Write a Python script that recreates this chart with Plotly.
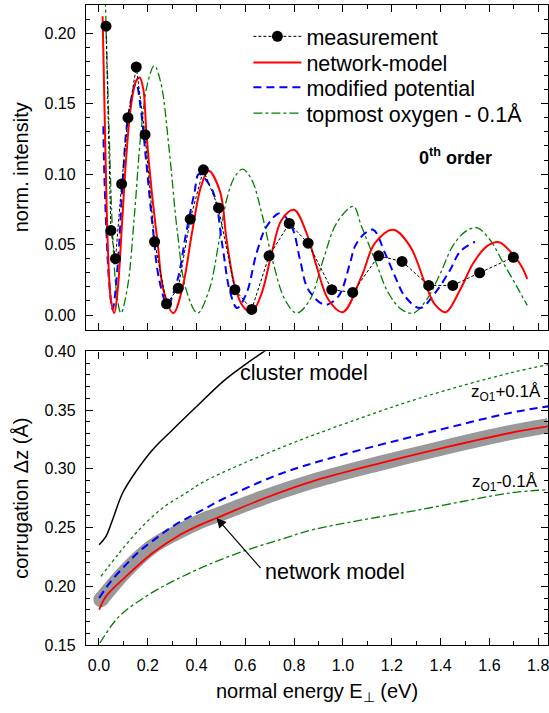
import plotly.graph_objects as go

# ---------------- top panel data (0th order intensity) ----------------
meas_E = [0.029, 0.049, 0.068, 0.093, 0.119, 0.153, 0.189, 0.228, 0.277, 0.325, 0.374, 0.428, 0.490,
          0.557, 0.626, 0.697, 0.780, 0.857, 0.954, 1.040, 1.146, 1.242, 1.351, 1.450, 1.560, 1.698]
meas_I = [0.205, 0.060, 0.040, 0.093, 0.140, 0.176, 0.128, 0.052, 0.008, 0.019, 0.068, 0.103, 0.076,
          0.018, 0.004, 0.042, 0.065, 0.051, 0.018, 0.016, 0.042, 0.038, 0.021, 0.021, 0.030, 0.041]

net_E = [0.015, 0.025, 0.037, 0.049, 0.063, 0.077, 0.094, 0.111, 0.131, 0.152, 0.167, 0.182, 0.195,
         0.217, 0.240, 0.264, 0.305, 0.343, 0.381, 0.418, 0.449, 0.496, 0.523, 0.557, 0.591, 0.626,
         0.667, 0.708, 0.749, 0.799, 0.851, 0.892, 0.940, 0.999, 1.076, 1.131, 1.206, 1.275, 1.336,
         1.377, 1.421, 1.480, 1.534, 1.589, 1.639, 1.691, 1.732, 1.755]
net_I = [0.212, 0.129, 0.046, 0.011, 0.0014, 0.018, 0.063, 0.110, 0.148, 0.166, 0.1685, 0.160, 0.128,
         0.0865, 0.052, 0.018, 0.0014, 0.020, 0.058, 0.091, 0.1023, 0.0877, 0.0534, 0.0203, 0.006, 0.002,
         0.0156, 0.044, 0.0676, 0.0747, 0.058, 0.0345, 0.011, 0.002, 0.0274, 0.051, 0.0605, 0.0487, 0.0227,
         0.0073, 0.002, 0.018, 0.0369, 0.0487, 0.0517, 0.044, 0.0345, 0.0257]

mod_E = [0.018, 0.022, 0.031, 0.042, 0.056, 0.0765, 0.097, 0.1175, 0.152, 0.172, 0.193, 0.220, 0.247,
         0.281, 0.322, 0.357, 0.391, 0.410, 0.466, 0.507, 0.535, 0.566, 0.605, 0.646, 0.687, 0.742,
         0.790, 0.824, 0.858, 0.926, 0.981, 1.029, 1.049, 1.090, 1.124, 1.172, 1.213, 1.254, 1.316,
         1.377, 1.439, 1.480, 1.541]
mod_I = [0.134, 0.101, 0.058, 0.023, 0.004, 0.0345, 0.0936, 0.1385, 0.1645, 0.1456, 0.110, 0.0628, 0.025,
         0.0073, 0.025, 0.058, 0.0865, 0.100, 0.088, 0.048, 0.018, 0.005, 0.0156, 0.044, 0.0628, 0.0723,
         0.0628, 0.0392, 0.018, 0.0073, 0.0132, 0.0369, 0.0487, 0.058, 0.0605, 0.044, 0.0274, 0.0132, 0.005,
         0.0156, 0.032, 0.045, 0.052]

top_E = [0.024, 0.042, 0.056, 0.0725, 0.090, 0.1175, 0.145, 0.172, 0.1995, 0.227, 0.254, 0.288, 0.322,
         0.357, 0.404, 0.452, 0.493, 0.523, 0.557, 0.589, 0.626, 0.667, 0.714, 0.762, 0.810, 0.865,
         0.919, 0.974, 1.042, 1.076, 1.131, 1.186, 1.241, 1.288, 1.343, 1.400, 1.450, 1.500, 1.548,
         1.602, 1.657, 1.712, 1.755]
top_I = [0.238, 0.129, 0.058, 0.0156, 0.0014, 0.0203, 0.070, 0.129, 0.1645, 0.177, 0.1645, 0.117, 0.058,
         0.018, 0.0014, 0.018, 0.0534, 0.0818, 0.0983, 0.1035, 0.096, 0.0723, 0.0369, 0.011, 0.0014, 0.011,
         0.0392, 0.0652, 0.077, 0.0628, 0.0392, 0.0156, 0.0038, 0.0014, 0.011, 0.030, 0.049, 0.059, 0.062,
         0.0534, 0.0369, 0.0203, 0.0068]

# ---------------- bottom panel data (corrugation) ----------------
clu_E = [0.001, 0.029, 0.056, 0.097, 0.152, 0.220, 0.302, 0.400, 0.509, 0.589, 0.677, 0.700]
clu_V = [0.2354, 0.2425, 0.2567, 0.2794, 0.2978, 0.3163, 0.3333, 0.3530, 0.3745, 0.3872, 0.400, 0.403]

plus_E = [0.008, 0.083, 0.165, 0.261, 0.357, 0.432, 0.742, 1.015, 1.316, 1.684, 1.841]
plus_V = [0.2084, 0.2283, 0.2482, 0.2667, 0.2794, 0.2893, 0.3177, 0.3390, 0.3603, 0.3816, 0.3887]

minus_E = [0.004, 0.083, 0.193, 0.302, 0.432, 0.580, 0.742, 0.878, 1.316, 1.684, 1.841]
minus_V = [0.1517, 0.1744, 0.1914, 0.2042, 0.2169, 0.2290, 0.2397, 0.2482, 0.2652, 0.2794, 0.2822]

modc_E = [0.001, 0.049, 0.111, 0.165, 0.227, 0.302, 0.432, 0.510, 0.742, 0.974, 1.288, 1.411, 1.684, 1.841]
modc_V = [0.190, 0.2042, 0.2184, 0.2297, 0.2397, 0.2510, 0.2658, 0.2745, 0.2956, 0.3106, 0.3276, 0.3340, 0.3476, 0.3532]

netc_E = [0.001, 0.029, 0.111, 0.220, 0.329, 0.432, 0.482, 0.673, 0.878, 1.138, 1.411, 1.684, 1.841]
netc_V = [0.180, 0.1914, 0.2084, 0.2283, 0.2435, 0.2539, 0.2581, 0.2745, 0.2895, 0.3040, 0.3178, 0.3305, 0.3361]

band_E = [0.008, 0.111, 0.220, 0.329, 0.432, 0.482, 0.673, 0.878, 1.138, 1.411, 1.684, 1.841]
band_V = [0.1886, 0.2135, 0.2340, 0.2467, 0.2567, 0.2604, 0.2755, 0.2895, 0.3040, 0.3180, 0.3308, 0.3368]

RED = "rgb(255,0,0)"
BLUE = "rgb(0,0,255)"
GREEN = "rgb(0,128,0)"
GRAY = "rgb(153,153,153)"
FONT = "Liberation Sans, Arial, sans-serif"

fig = go.Figure()

# top panel
fig.add_trace(go.Scatter(x=top_E, y=top_I, mode="lines", name="topmost oxygen - 0.1Å", legend="legend4",
                         line=dict(color=GREEN, width=1.3, dash="dashdot", shape="spline"),
                         xaxis="x", yaxis="y"))
fig.add_trace(go.Scatter(x=mod_E, y=mod_I, mode="lines", name="modified potential", legend="legend3",
                         line=dict(color=BLUE, width=2, dash="8px,5px", shape="spline"),
                         xaxis="x", yaxis="y"))
fig.add_trace(go.Scatter(x=net_E, y=net_I, mode="lines", name="network-model", legend="legend2",
                         line=dict(color=RED, width=2, shape="spline"),
                         xaxis="x", yaxis="y"))
fig.add_trace(go.Scatter(x=meas_E, y=meas_I, mode="lines+markers", name="measurement", legend="legend",
                         line=dict(color="black", width=1, dash="3px,2px"),
                         marker=dict(color="black", size=11),
                         xaxis="x", yaxis="y"))

# bottom panel
fig.add_trace(go.Scatter(x=band_E, y=band_V, mode="lines", showlegend=False,
                         line=dict(color=GRAY, width=15, shape="spline"), xaxis="x2", yaxis="y2"))
fig.add_trace(go.Scatter(x=band_E[:1], y=band_V[:1], mode="markers", showlegend=False,
                         marker=dict(color=GRAY, size=15), xaxis="x2", yaxis="y2"))
fig.add_trace(go.Scatter(x=clu_E, y=clu_V, mode="lines", showlegend=False,
                         line=dict(color="black", width=1.5, shape="spline"), xaxis="x2", yaxis="y2"))
fig.add_trace(go.Scatter(x=plus_E, y=plus_V, mode="lines", showlegend=False,
                         line=dict(color=GREEN, width=1.3, dash="dot", shape="spline"), xaxis="x2", yaxis="y2"))
fig.add_trace(go.Scatter(x=minus_E, y=minus_V, mode="lines", showlegend=False,
                         line=dict(color=GREEN, width=1.3, dash="dashdot", shape="spline"), xaxis="x2", yaxis="y2"))
fig.add_trace(go.Scatter(x=modc_E, y=modc_V, mode="lines", showlegend=False,
                         line=dict(color=BLUE, width=2, dash="8px,5px", shape="spline"), xaxis="x2", yaxis="y2"))
fig.add_trace(go.Scatter(x=netc_E, y=netc_V, mode="lines", showlegend=False,
                         line=dict(color=RED, width=1.8, shape="spline"), xaxis="x2", yaxis="y2"))

axis_common = dict(showline=True, linecolor="black", linewidth=1.3, mirror="ticks",
                   ticks="inside", ticklen=7, tickwidth=1.3, tickcolor="black",
                   showgrid=False, zeroline=False, automargin=False,
                   tickfont=dict(size=16, color="black", family=FONT))

x_range = [-0.053, 1.84]

legend_common = dict(x=0.3515, xanchor="left", yanchor="middle", bgcolor="rgba(0,0,0,0)",
                     font=dict(size=21.5), itemwidth=48)

fig.update_layout(
    width=549, height=713,
    margin=dict(l=86, r=1, t=5, b=68),
    plot_bgcolor="white", paper_bgcolor="white",
    font=dict(family=FONT, color="black"),
    xaxis=dict(axis_common, domain=[0, 1], anchor="y", range=x_range, dtick=0.2,
               showticklabels=False, matches="x2",
               minor=dict(ticks="inside", ticklen=4, tickwidth=1.3, tickcolor="black", dtick=0.1)),
    yaxis=dict(axis_common, domain=[0.4927, 1], anchor="x", range=[-0.0104, 0.22], dtick=0.05,
               tickformat=".2f", ticklabelstandoff=6,
               title=dict(text="norm. intensity", font=dict(size=20), standoff=10),
               minor=dict(ticks="inside", ticklen=4, tickwidth=1.3, tickcolor="black", dtick=0.01)),
    xaxis2=dict(axis_common, domain=[0, 1], anchor="y2", range=x_range, dtick=0.2,
                tickformat=".1f", ticklabelstandoff=6, ticklabeloverflow="allow",
                title=dict(text="normal energy E<sub>⊥</sub> (eV)", font=dict(size=20), standoff=10),
                minor=dict(ticks="inside", ticklen=4, tickwidth=1.3, tickcolor="black", dtick=0.1)),
    yaxis2=dict(axis_common, domain=[0, 0.4588], anchor="x2", range=[0.15, 0.40], dtick=0.05,
                tickformat=".2f", ticklabelstandoff=6,
                title=dict(text="corrugation Δz (Å)", font=dict(size=20), standoff=10),
                minor=dict(ticks="inside", ticklen=4, tickwidth=1.3, tickcolor="black", dtick=0.01)),
    legend=dict(legend_common, y=0.951),
    legend2=dict(legend_common, y=0.9103),
    legend3=dict(legend_common, y=0.8713),
    legend4=dict(legend_common, y=0.831),
    annotations=[
        dict(text="<b>0<sup>th</sup> order</b>", x=1.463, y=0.1123, xref="x", yref="y",
             showarrow=False, font=dict(size=18)),
        dict(text="cluster model", x=0.84, y=0.3819, xref="x2", yref="y2",
             showarrow=False, font=dict(size=21.5)),
        dict(text="z<sub>O1</sub>+0.1Å", x=1.668, y=0.3648, xref="x2", yref="y2",
             showarrow=False, font=dict(size=17)),
        dict(text="z<sub>O1</sub>-0.1Å", x=1.664, y=0.2882, xref="x2", yref="y2",
             showarrow=False, font=dict(size=17)),
        dict(text="network model", x=0.967, y=0.2124, xref="x2", yref="y2",
             showarrow=False, font=dict(size=21.5)),
        dict(text="", x=0.482, y=0.2581, xref="x2", yref="y2",
             ax=0.668, ay=0.2141, axref="x2", ayref="y2",
             showarrow=True, arrowhead=2, arrowsize=1.6, arrowwidth=1.2, arrowcolor="black"),
    ],
)

fig.write_html("out.html", config={"displayModeBar": False},
               post_script="document.body.style.margin='0';document.body.style.overflow='hidden';")
